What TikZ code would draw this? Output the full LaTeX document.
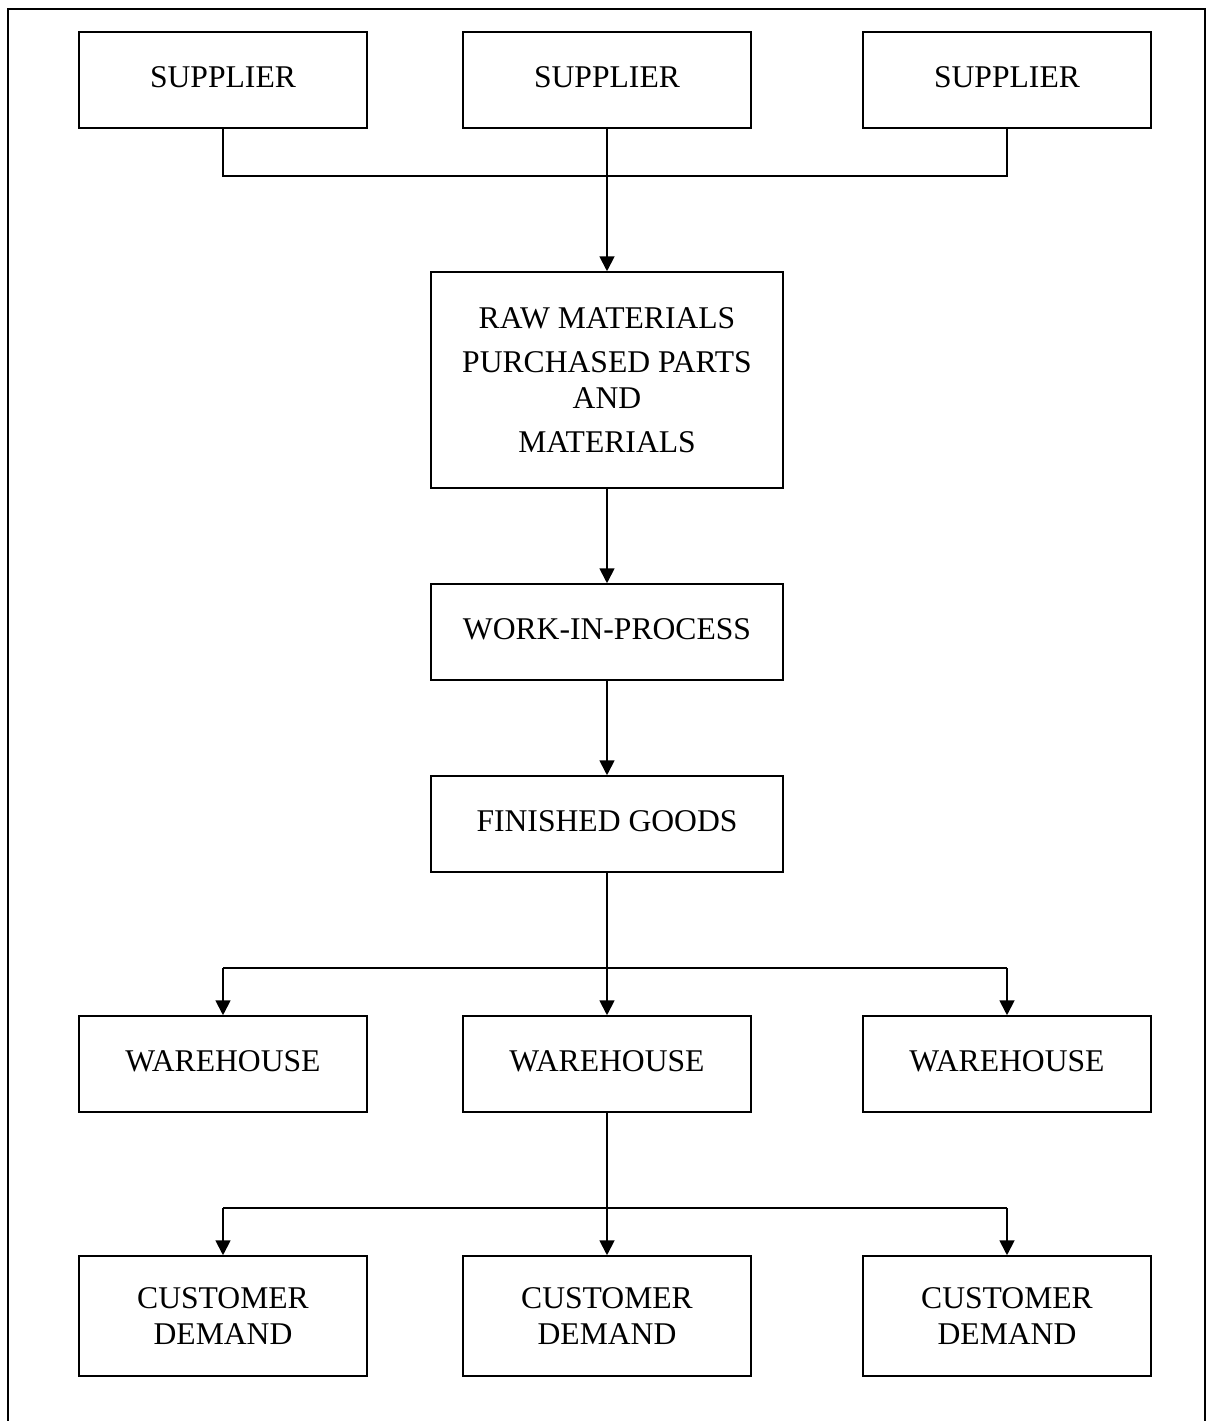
\documentclass[tikz,border=0pt]{standalone}
\usepackage{fontspec}
\setmainfont{Liberation Serif}
\usetikzlibrary{arrows.meta}
\begin{document}
\begin{tikzpicture}[x=0.02cm,y=-0.02cm,
  box/.style={draw,line width=0.9pt,rectangle,inner sep=0pt,align=center,
    font=\fontsize{18}{20.4}\selectfont},
  smallbox/.style={box,minimum width=5.76cm,minimum height=1.92cm,text depth=3.4pt},
  widebox/.style={box,minimum width=7.04cm,minimum height=1.92cm,text depth=3.4pt},
  custbox/.style={box,minimum width=5.76cm,minimum height=2.4cm},
  thinline/.style={line width=0.8pt},
  arr/.style={line width=1.1pt,-{Triangle[width=8.5pt,length=8.5pt]}}]
\useasboundingbox (0,0) rectangle (1207,1421);
\clip (0,0) rectangle (1207,1421);
\draw[line width=0.9pt] (8,9) rectangle (1205,1440);

\node[smallbox] (s1) at (223,80) {SUPPLIER};
\node[smallbox] (s2) at (607,80) {SUPPLIER};
\node[smallbox] (s3) at (1007,80) {SUPPLIER};

\node[box,minimum width=7.04cm,minimum height=4.32cm] (raw) at (607,380)
  {RAW MATERIALS\\[5pt] PURCHASED PARTS\\ AND\\[4.5pt] MATERIALS};
\node[widebox] (wip) at (607,632) {WORK-IN-PROCESS};
\node[widebox] (fg) at (607,824) {FINISHED GOODS};

\node[smallbox] (w1) at (223,1064) {WAREHOUSE};
\node[smallbox] (w2) at (607,1064) {WAREHOUSE};
\node[smallbox] (w3) at (1007,1064) {WAREHOUSE};

\node[custbox] (c1) at (223,1316) {CUSTOMER\\ DEMAND};
\node[custbox] (c2) at (607,1316) {CUSTOMER\\ DEMAND};
\node[custbox] (c3) at (1007,1316) {CUSTOMER\\ DEMAND};

\coordinate (jtop) at (607,176);
\coordinate (jmid) at (607,968);
\coordinate (jbot) at (607,1208);

\draw[thinline] (s1.south) |- (jtop) -| (s3.south);
\draw[arr] (s2.south) -- (raw.north);
\draw[arr] (raw.south) -- (wip.north);
\draw[arr] (wip.south) -- (fg.north);

\draw[arr] (fg.south) -- (w2.north);
\draw[thinline] (w1.north |- jmid) -- (w3.north |- jmid);
\draw[arr] (w1.north |- jmid) -- (w1.north);
\draw[arr] (w3.north |- jmid) -- (w3.north);

\draw[arr] (w2.south) -- (c2.north);
\draw[thinline] (c1.north |- jbot) -- (c3.north |- jbot);
\draw[arr] (c1.north |- jbot) -- (c1.north);
\draw[arr] (c3.north |- jbot) -- (c3.north);
\end{tikzpicture}
\end{document}
